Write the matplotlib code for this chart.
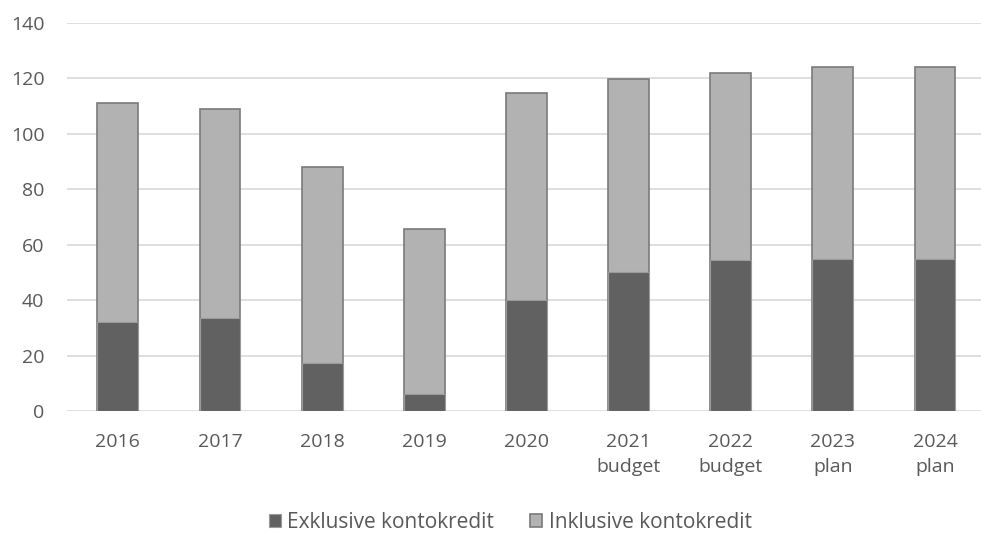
import matplotlib.pyplot as plt

categories = ['2016', '2017', '2018', '2019', '2020',
              '2021\nbudget', '2022\nbudget', '2023\nplan', '2024\nplan']
exklusive = [32, 33.5, 17.5, 6, 40, 50, 54.5, 55, 55]
inklusive = [111, 109, 88, 65.6, 114.8, 119.8, 122, 124, 124]

plt.rcParams['font.family'] = ['Open Sans', 'DejaVu Sans']
txt = '#595959'
fs = 14

fig = plt.figure(figsize=(9.81, 5.43), dpi=100)
ax = fig.add_axes([0.068, 0.243, 0.932, 0.715])

x = range(len(categories))
# light bar = total incl. kontokredit, dark drawn in front
ax.bar(x, inklusive, width=0.4, color='#b2b2b2', edgecolor='#7a7a7a',
       linewidth=1.2, zorder=2, label='Inklusive kontokredit')
ax.bar(x, exklusive, width=0.4, color='#616161', edgecolor='#9a9a9a',
       linewidth=0.8, zorder=3, label='Exklusive kontokredit')

ax.set_xlim(-0.5, len(categories) - 0.55)
ax.set_ylim(0, 140)
ax.set_yticks(range(0, 141, 20))
ax.set_xticks(list(x))
ax.set_xticklabels(categories, linespacing=1.45)
ax.grid(axis='y', color='#d9d9d9', linewidth=1.2, zorder=0)
for s in ax.spines.values():
    s.set_visible(False)
ax.tick_params(length=0, labelsize=fs, labelcolor=txt)
ax.tick_params(axis='x', pad=16)
ax.tick_params(axis='y', pad=16)

h, l = ax.get_legend_handles_labels()
fig.legend(h[::-1], l[::-1], loc='center', bbox_to_anchor=(0.52, 0.038), ncol=2,
           frameon=False, fontsize=15, labelcolor=txt, handlelength=0.6,
           handleheight=0.6, handletextpad=0.3, columnspacing=1.7)

fig.savefig('out.png', dpi=100)
